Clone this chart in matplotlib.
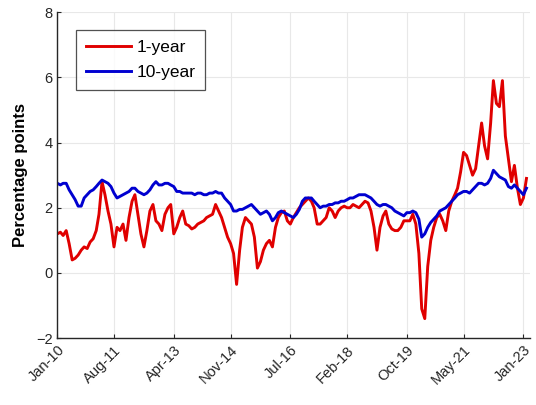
import matplotlib
matplotlib.use('Agg')
import matplotlib.pyplot as plt
import matplotlib.dates as mdates
import pandas as pd

plt.rcParams['font.family'] = ['Liberation Sans', 'DejaVu Sans']

# monthly readings, Jan 2010 .. Feb 2023
dates = pd.date_range('2010-01-01', periods=158, freq='MS')

one_year = [
    1.2, 1.25, 1.15, 1.3, 0.9, 0.4, 0.45, 0.55, 0.7, 0.8,
    0.75, 0.95, 1.05, 1.3, 1.8, 2.8, 2.4, 1.9, 1.5, 0.8,
    1.4, 1.3, 1.5, 1.0, 1.7, 2.2, 2.4, 1.8, 1.2, 0.8,
    1.3, 1.9, 2.1, 1.6, 1.5, 1.3, 1.8, 2.0, 2.1, 1.2,
    1.4, 1.7, 1.9, 1.5, 1.45, 1.35, 1.4, 1.5, 1.55, 1.6,
    1.7, 1.75, 1.8, 2.1, 1.9, 1.7, 1.4, 1.1, 0.9, 0.6,
    -0.35, 0.7, 1.4, 1.7, 1.6, 1.5, 1.1, 0.15, 0.35, 0.7,
    0.9, 1.0, 0.8, 1.4, 1.7, 1.85, 1.9, 1.6, 1.5, 1.7,
    1.85, 2.0, 2.1, 2.2, 2.3, 2.2, 2.0, 1.5, 1.5, 1.6,
    1.7, 2.0, 1.9, 1.7, 1.9, 2.0, 2.05, 2.0, 2.0, 2.1,
    2.05, 2.0, 2.1, 2.2, 2.15, 1.9, 1.4, 0.7, 1.4, 1.75,
    1.9, 1.5, 1.35, 1.3, 1.3, 1.4, 1.6, 1.6, 1.6, 1.8,
    1.5, 0.6, -1.1, -1.4, 0.2, 1.0, 1.4, 1.7, 1.8, 1.6,
    1.3, 1.9, 2.2, 2.4, 2.6, 3.1, 3.7, 3.6, 3.3, 3.0,
    3.2, 3.9, 4.6, 3.9, 3.5, 4.6, 5.9, 5.2, 5.1, 5.9,
    4.2, 3.5, 2.8, 3.3, 2.6, 2.1, 2.3, 2.9,
]

ten_year = [
    2.75, 2.7, 2.75, 2.75, 2.55, 2.4, 2.25, 2.05, 2.05, 2.3,
    2.4, 2.5, 2.55, 2.65, 2.75, 2.85, 2.8, 2.75, 2.65, 2.45,
    2.3, 2.35, 2.4, 2.45, 2.5, 2.6, 2.6, 2.5, 2.45, 2.4,
    2.45, 2.55, 2.7, 2.8, 2.7, 2.7, 2.75, 2.75, 2.7, 2.65,
    2.5, 2.5, 2.45, 2.45, 2.45, 2.45, 2.4, 2.45, 2.45, 2.4,
    2.4, 2.45, 2.45, 2.5, 2.45, 2.45, 2.3, 2.2, 2.1, 1.9,
    1.9, 1.95, 1.95, 2.0, 2.05, 2.1, 2.0, 1.9, 1.8, 1.85,
    1.9, 1.8, 1.6, 1.7, 1.85, 1.9, 1.85, 1.8, 1.75, 1.7,
    1.8, 1.95, 2.2, 2.3, 2.3, 2.3, 2.2, 2.1, 2.0, 2.05,
    2.05, 2.1, 2.1, 2.15, 2.15, 2.2, 2.2, 2.25, 2.3, 2.3,
    2.35, 2.4, 2.4, 2.4, 2.35, 2.3, 2.2, 2.1, 2.05, 2.1,
    2.1, 2.05, 2.0, 1.9, 1.85, 1.8, 1.75, 1.85, 1.85, 1.9,
    1.85, 1.65, 1.1, 1.2, 1.4, 1.55, 1.65, 1.75, 1.9, 1.95,
    2.0, 2.1, 2.2, 2.3, 2.4, 2.45, 2.5, 2.5, 2.45, 2.55,
    2.65, 2.75, 2.75, 2.7, 2.75, 2.9, 3.15, 3.05, 2.95, 2.9,
    2.85, 2.65, 2.6, 2.7, 2.6, 2.5, 2.4, 2.6,
]

tick_dates = pd.to_datetime(['2010-01-01', '2011-08-01', '2013-04-01', '2014-11-01',
                             '2016-07-01', '2018-02-01', '2019-10-01', '2021-05-01',
                             '2023-01-01'])
y_ticks = [-2, 0, 2, 4, 6, 8]

fig = plt.figure(figsize=(5.36, 4.05), dpi=100)
ax = fig.add_axes([0.107, 0.165, 0.882, 0.805])

ax.plot(dates, one_year, color='#e00000', lw=2.1, label='1-year')
ax.plot(dates, ten_year, color='#0000d0', lw=2.1, label='10-year')

ax.set_ylim(-2, 8)
ax.set_xlim(pd.Timestamp('2010-01-01'), pd.Timestamp('2023-03-10'))
ax.set_yticks(y_ticks)
ax.set_xticks(tick_dates)
ax.xaxis.set_major_formatter(mdates.DateFormatter('%b-%y'))

ax.grid(True, color='#e8e8e8', lw=0.8)
ax.set_axisbelow(True)
for side in ['top', 'right']:
    ax.spines[side].set_visible(False)
for side in ['left', 'bottom']:
    ax.spines[side].set_color('#262626')
    ax.spines[side].set_linewidth(1.0)

ax.tick_params(direction='in', length=3, color='#262626', labelsize=10.5,
               labelcolor='#262626')
plt.setp(ax.get_xticklabels(), rotation=45, ha='right', rotation_mode='anchor')

ax.set_ylabel('Percentage points', fontsize=12, fontweight='bold', labelpad=6)

leg = ax.legend(loc='upper left', bbox_to_anchor=(0.04, 0.945), fontsize=12.5,
                frameon=True, fancybox=False, edgecolor='#262626',
                handlelength=2.6, handletextpad=0.3, borderpad=0.55,
                labelspacing=0.6, borderaxespad=0.0)
leg.get_frame().set_linewidth(0.9)

fig.savefig('out.png', dpi=100)
